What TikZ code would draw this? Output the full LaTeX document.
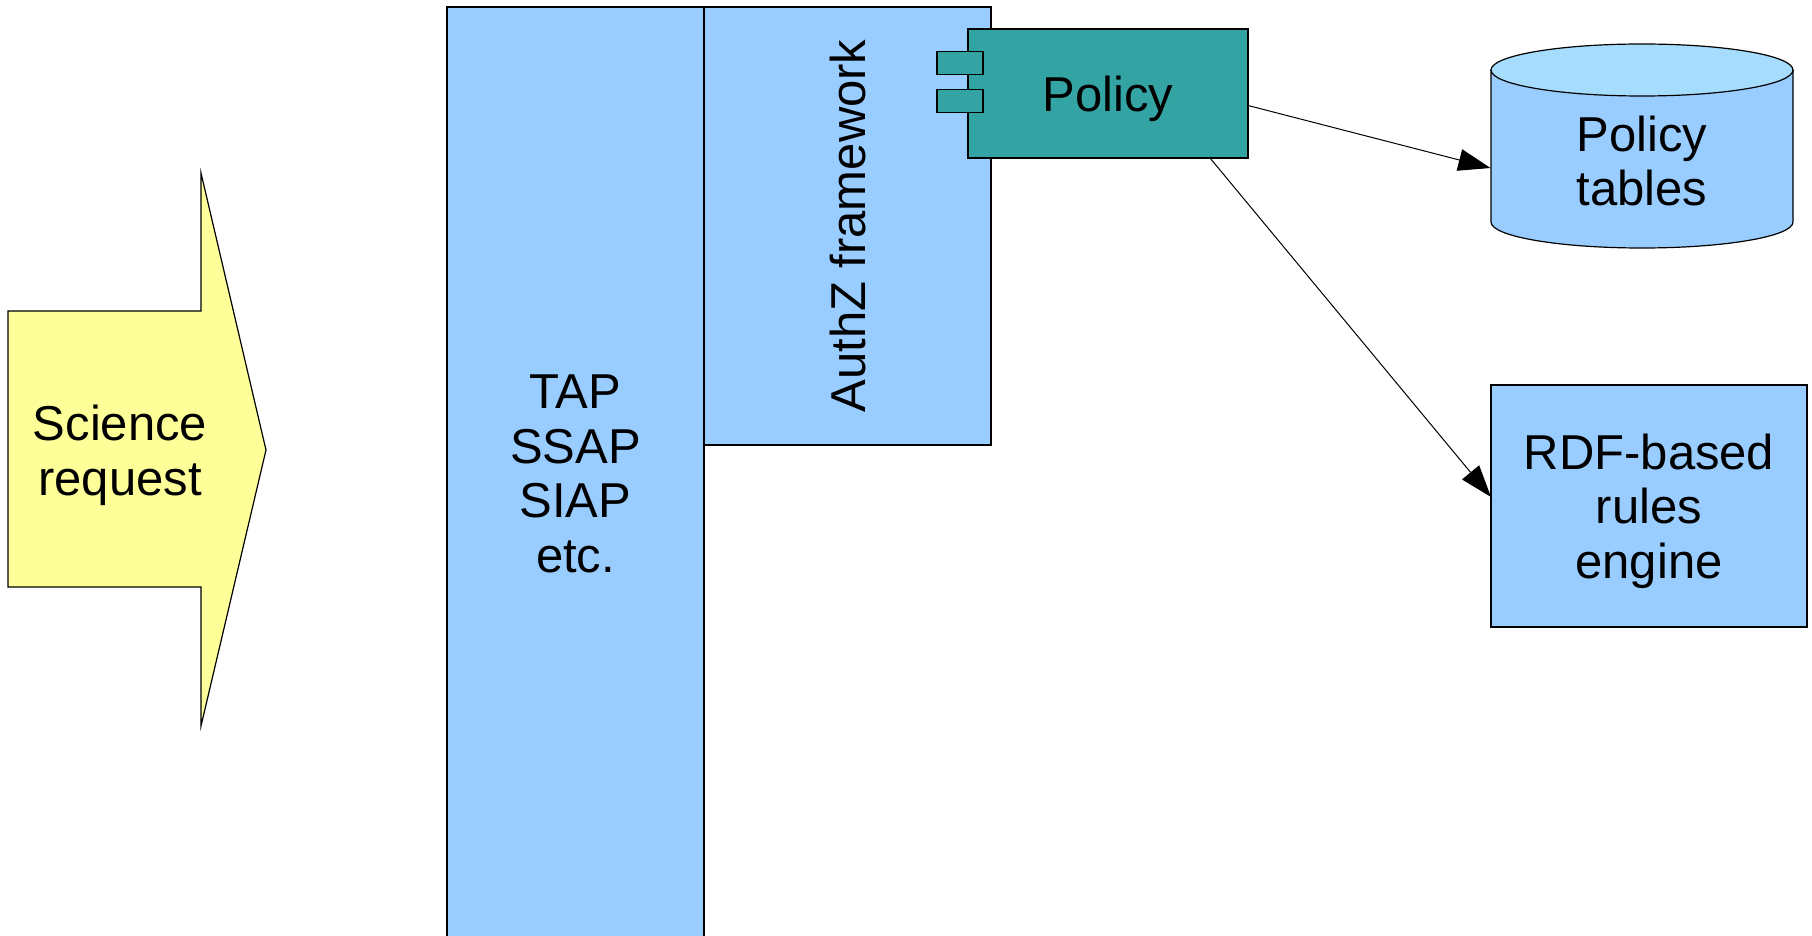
\documentclass[tikz,border=0pt]{standalone}
\usepackage{fontspec}
\setmainfont{Liberation Sans}
\usetikzlibrary{positioning, arrows.meta}

\definecolor{protoblue}{HTML}{99CCFF}
\definecolor{policyteal}{HTML}{33A3A3}
\definecolor{requestyellow}{HTML}{FFFF99}
\definecolor{tabletop}{HTML}{A6DDFF}

\begin{document}
\begin{tikzpicture}[x=0.5pt, y=-0.5pt, line width=0.6pt,
    font=\fontsize{24.5}{27.3}\selectfont,
    box/.style = {draw, fill=protoblue, inner sep=0pt, outer sep=0pt, align=center, anchor=north west},
    comp/.style = {draw, fill=policyteal, inner sep=0pt, outer sep=0pt},
    flow/.style = {-{Triangle[length=16pt, width=11pt]}, line width=0.5pt}]
    \useasboundingbox (0,0) rectangle (1812,936);

    % Request arrow
    \draw[fill=requestyellow] (8,311) -- (201,311) -- (201,173) -- (266,450) -- (201,726) -- (201,587) -- (8,587) -- cycle;
    \node[align=center, text depth=0pt] (request) at (120,450) {Science\\request};

    % Nodes
    \node[box, minimum width=128.5pt, minimum height=467pt] (proto) at (447,7) {TAP\\SSAP\\SIAP\\etc.};
    \node[box, minimum width=143.5pt, minimum height=219pt] (authz) at (proto.north east) {};
    \node[rotate=90] (authzlabel) at (authz.center) {AuthZ framework};

    \node[comp, minimum width=140pt, minimum height=64.5pt, anchor=north west, text depth=0pt] (policy) at (968,29) {Policy};
    \node[comp, minimum width=23pt, minimum height=11.5pt] (tabA) at ([xshift=-4pt, yshift=-17pt]policy.north west) {};
    \node[comp, minimum width=23pt, minimum height=11.5pt] (tabB) at ([xshift=-4pt, yshift=-36pt]policy.north west) {};

    % Policy tables (cylinder)
    \draw[fill=protoblue] (1491,70) -- (1491,222) arc[start angle=180, end angle=360, x radius=75.5pt, y radius=13pt] -- (1793,70) -- cycle;
    \draw[fill=tabletop] (1642,70) ellipse [x radius=75.5pt, y radius=13pt];
    \node[minimum width=151pt, align=center] (tables) at (1642,161) {Policy\\tables};

    \node[box, minimum width=158pt, minimum height=121pt, text depth=0pt] (rules) at (1491,385) {RDF-based\\rules\\engine};

    % Lines
    \draw[flow] ([yshift=-6pt]policy.east) -- ([yshift=-3.5pt]tables.west);
    \draw[flow] ([xshift=-19pt]policy.south east) -- ([yshift=4.5pt]rules.west);
\end{tikzpicture}
\end{document}
